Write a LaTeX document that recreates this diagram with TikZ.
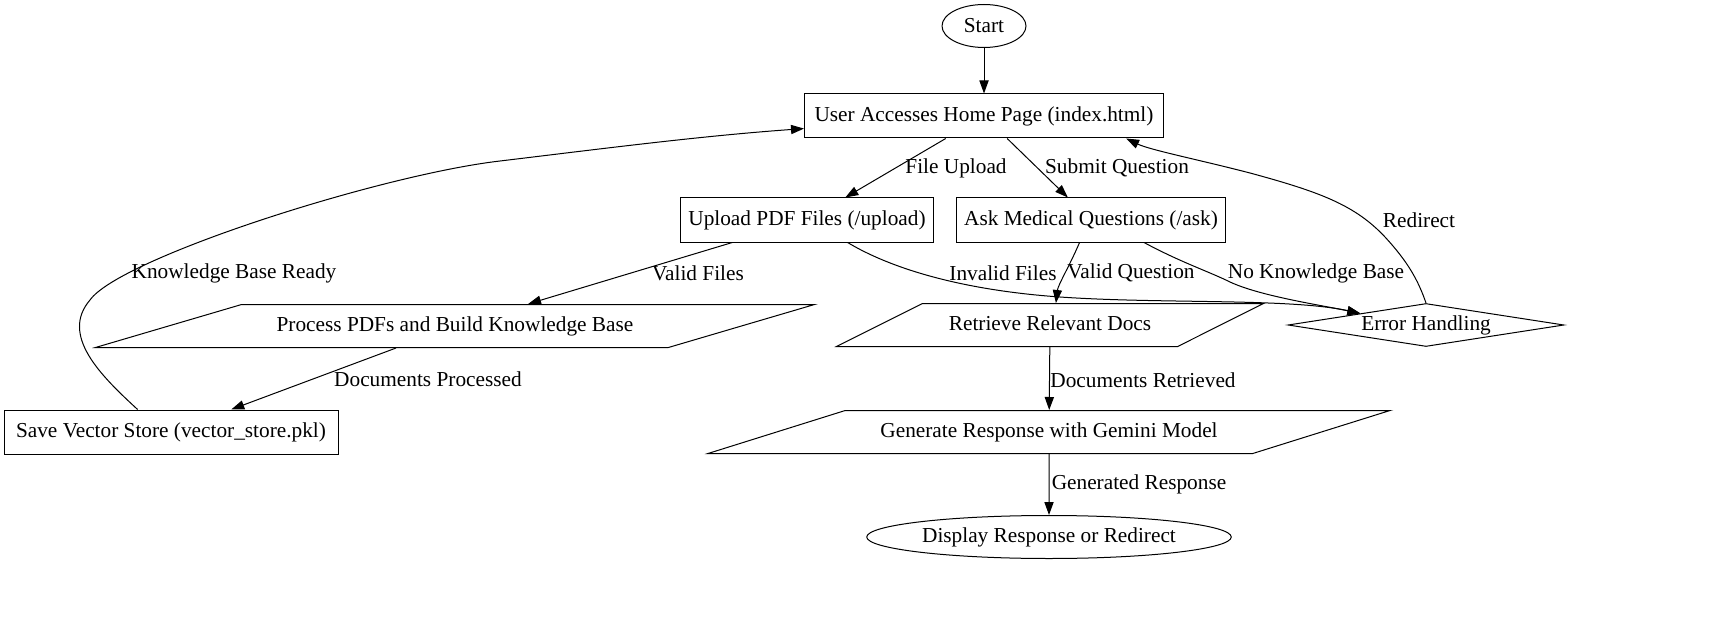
\documentclass[tikz,border=0pt]{standalone}
\usepackage{fontspec}
\setmainfont{Liberation Serif}
\usetikzlibrary{shapes.geometric}
\usetikzlibrary{arrows.meta}

\begin{document}
\begin{tikzpicture}[x=0.5pt, y=-0.5pt,
        every node/.style={font=\fontsize{10.65}{12}\selectfont},
        box/.style={draw, rectangle, minimum height=22pt, inner sep=2pt},
        term/.style={draw, ellipse, minimum height=21.5pt, inner sep=1pt},
        io/.style={draw, trapezium, trapezium stretches body, text height=8pt, text depth=2.5pt, inner xsep=2pt, inner ysep=5.5pt},
        check/.style={draw, diamond, aspect=6.4, minimum height=21.5pt, inner sep=0pt},
        arr/.style={-{Triangle[length=6.5pt, width=4.6pt]}},
        lbl/.style={inner sep=0pt},
        line width=0.5pt]
        \useasboundingbox (0,0) rectangle (1722,620);

        % The steps
        \node[term, minimum width=42pt] (start) at (984,26) {Start};
        \node[box, minimum width=179.5pt] (home) at (984,116) {User Accesses Home Page (index.html)};
        \node[box, minimum width=126.5pt] (upload) at (807,220) {Upload PDF Files (/upload)};
        \node[box, minimum width=134.5pt] (ask) at (1091,220) {Ask Medical Questions (/ask)};
        \node[io, minimum width=359.5pt, trapezium left angle=16.4, trapezium right angle=163.6] (process) at (455,326) {Process PDFs and Build Knowledge Base};
        \node[io, minimum width=213.5pt, trapezium left angle=26.6, trapezium right angle=153.4] (retrieve) at (1050,325) {Retrieve Relevant Docs};
        \node[check, minimum width=138pt] (error) at (1426,325) {Error Handling};
        \node[box, minimum width=167pt] (save) at (171,432) {Save Vector Store (vector\_store.pkl)};
        \node[io, minimum width=341pt, trapezium left angle=17.4, trapezium right angle=162.6] (generate) at (1049,432) {Generate Response with Gemini Model};
        \node[term, minimum width=178.5pt] (display) at (1049,537) {Display Response or Redirect};

        % The flow
        \draw[arr] (start) -- (home);
        \draw[arr] (home) -- (upload);
        \draw[arr] (home) -- (ask);
        \draw[arr] (upload) -- (process);
        \draw[arr] (upload.331) .. controls (890,268) and (960,290) .. (1060,297) .. controls (1160,304) and (1290,298) .. (error.170);
        \draw[arr] (ask.243) .. controls (1070,265) and (1058,285) .. (retrieve.75);
        \draw[arr] (ask.337) .. controls (1180,262) and (1210,272) .. (1230,282) .. controls (1260,296) and (1320,305) .. (error.170);
        \draw[arr] (error.north) .. controls (1418,280) and (1408,262) .. (1385,237) .. controls (1355,205) and (1320,192) .. (1250,173) .. controls (1200,160) and (1150,150) .. (home.351);
        \draw[arr] (process) -- (save);
        \draw[arr] (save.146) .. controls (100,375) and (60,335) .. (90,300) .. controls (120,258) and (380,175) .. (500,161) .. controls (600,149) and (700,136) .. (home.184);
        \draw[arr] (retrieve) -- (generate);
        \draw[arr] (generate) -- (display);

        % The labels of the edges
        \node[lbl] (lfile) at (956,168) {File Upload};
        \node[lbl] (lsubmit) at (1117,168) {Submit Question};
        \node[lbl] (lvalidf) at (698,273) {Valid Files};
        \node[lbl] (linvalid) at (1003,273) {Invalid Files};
        \node[lbl] (lvalidq) at (1131,273) {Valid Question};
        \node[lbl] (lnokb) at (1316,273) {No Knowledge Base};
        \node[lbl] (lredirect) at (1419,220) {Redirect};
        \node[lbl] (lready) at (234,273) {Knowledge Base Ready};
        \node[lbl] (ldocs) at (428,379) {Documents Processed};
        \node[lbl] (lretrieved) at (1143,380) {Documents Retrieved};
        \node[lbl] (lgen) at (1139,484) {Generated Response};
    \end{tikzpicture}
\end{document}
